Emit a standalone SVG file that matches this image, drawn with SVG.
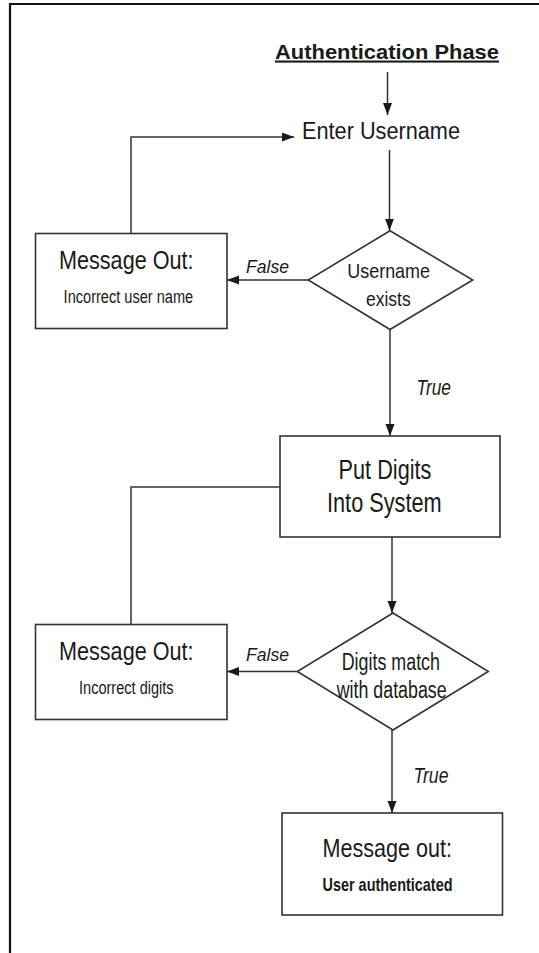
<svg xmlns="http://www.w3.org/2000/svg" width="539" height="953" viewBox="0 0 539 953">
  <defs>
    <marker id="arrow" markerUnits="userSpaceOnUse" markerWidth="12" markerHeight="10" refX="12" refY="4.5" orient="auto">
      <path d="M0,0 L12,4.5 L0,9 z" fill="#1a1a1a"/>
    </marker>
    <style>
      .box { fill: #ffffff; stroke: #333333; stroke-width: 1.6; }
      .conn { fill: none; stroke: #333333; stroke-width: 1.5; }
      .t { font-family: "Liberation Sans", Arial, sans-serif; fill: #1a1a1a; }
      .b { font-weight: bold; }
      .i { font-style: italic; }
    </style>
  </defs>
  <rect x="0" y="0" width="539" height="953" fill="#ffffff"/>
  <path d="M10,953 V4 H539" fill="none" stroke="#111111" stroke-width="2.2"/>

  <g id="title">
    <text class="t b" x="275" y="58.5" font-size="21" text-decoration="underline" textLength="224" lengthAdjust="spacingAndGlyphs">Authentication Phase</text>
  </g>

  <g id="enter-username">
    <text class="t" x="302" y="139" font-size="23.5" textLength="158" lengthAdjust="spacingAndGlyphs">Enter Username</text>
  </g>

  <g id="username-exists">
    <polygon class="box" points="390,230.7 472.7,280 390,329.5 308.3,280"/>
    <text class="t" x="347.3" y="278.3" font-size="21" textLength="82.7" lengthAdjust="spacingAndGlyphs">Username</text>
    <text class="t" x="366" y="306.3" font-size="21" textLength="44.7" lengthAdjust="spacingAndGlyphs">exists</text>
  </g>

  <g id="msg-incorrect-username">
    <rect class="box" x="35.5" y="233.5" width="191.5" height="95"/>
    <text class="t" x="59" y="269.3" font-size="25" textLength="134.5" lengthAdjust="spacingAndGlyphs">Message Out:</text>
    <text class="t" x="63.6" y="303.3" font-size="18" textLength="129.6" lengthAdjust="spacingAndGlyphs">Incorrect user name</text>
  </g>

  <g id="put-digits">
    <rect class="box" x="280" y="436" width="220" height="101"/>
    <text class="t" x="338.6" y="479" font-size="27" textLength="92.8" lengthAdjust="spacingAndGlyphs">Put Digits</text>
    <text class="t" x="327" y="512" font-size="27" textLength="114.7" lengthAdjust="spacingAndGlyphs">Into System</text>
  </g>

  <g id="digits-match">
    <polygon class="box" points="393,613 488.3,671.5 393,730 297.3,671.5"/>
    <text class="t" x="341.7" y="670" font-size="23" textLength="98.3" lengthAdjust="spacingAndGlyphs">Digits match</text>
    <text class="t" x="336.7" y="698.3" font-size="23" textLength="110" lengthAdjust="spacingAndGlyphs">with database</text>
  </g>

  <g id="msg-incorrect-digits">
    <rect class="box" x="35.5" y="624.5" width="191.5" height="95"/>
    <text class="t" x="59" y="660" font-size="25" textLength="134.5" lengthAdjust="spacingAndGlyphs">Message Out:</text>
    <text class="t" x="79" y="694" font-size="18" textLength="94.6" lengthAdjust="spacingAndGlyphs">Incorrect digits</text>
  </g>

  <g id="msg-authenticated">
    <rect class="box" x="282" y="813" width="220.5" height="102"/>
    <text class="t" x="322.5" y="856.7" font-size="26" textLength="129.5" lengthAdjust="spacingAndGlyphs">Message out:</text>
    <text class="t b" x="322.5" y="890.7" font-size="19" textLength="130" lengthAdjust="spacingAndGlyphs">User authenticated</text>
  </g>

  <g id="connectors">
    <line class="conn" x1="387.5" y1="72" x2="387.5" y2="115" marker-end="url(#arrow)"/>
    <line class="conn" x1="389.5" y1="150" x2="389.5" y2="230.7" marker-end="url(#arrow)"/>
    <line class="conn" x1="308.3" y1="280" x2="227" y2="280" marker-end="url(#arrow)"/>
    <polyline class="conn" points="131,233.5 131,137 294,137" marker-end="url(#arrow)"/>
    <line class="conn" x1="390" y1="329.5" x2="390" y2="436" marker-end="url(#arrow)"/>
    <polyline class="conn" points="280,487 131,487 131,624.5"/>
    <line class="conn" x1="392" y1="537" x2="392" y2="613" marker-end="url(#arrow)"/>
    <line class="conn" x1="297.3" y1="671.5" x2="227" y2="671.5" marker-end="url(#arrow)"/>
    <line class="conn" x1="392" y1="730" x2="392" y2="813" marker-end="url(#arrow)"/>
    <text class="t i" x="246" y="273" font-size="19" textLength="43" lengthAdjust="spacingAndGlyphs">False</text>
    <text class="t i" x="416.6" y="395" font-size="22" textLength="34.4" lengthAdjust="spacingAndGlyphs">True</text>
    <text class="t i" x="246" y="660.7" font-size="19" textLength="43" lengthAdjust="spacingAndGlyphs">False</text>
    <text class="t i" x="413.5" y="783" font-size="22" textLength="35" lengthAdjust="spacingAndGlyphs">True</text>
  </g>
</svg>
